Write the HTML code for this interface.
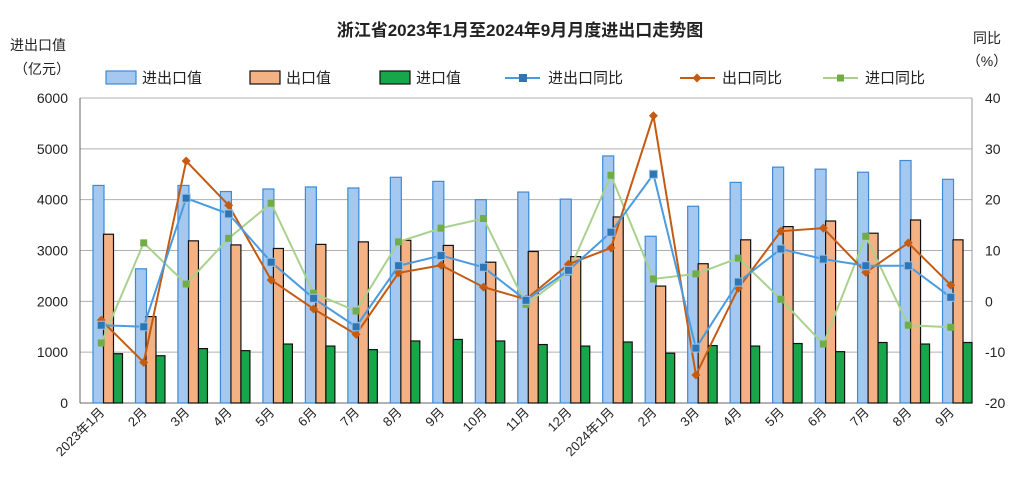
<!DOCTYPE html>
<html><head><meta charset="utf-8"><style>
body{margin:0;background:#fff;}
svg{display:block;font-family:"Liberation Sans","Noto Sans CJK SC",sans-serif;}
</style></head><body>
<svg id="c" width="1018" height="500" xmlns="http://www.w3.org/2000/svg"></svg>
<script>
const s=document.getElementById('c');
let h='';
const L=80,R=972,T=98,B=403,n=21,cw=(R-L)/n;
const yl=v=>B-(v/6000)*(B-T), yr=v=>B-((v+20)/60)*(B-T);
const BF='#a4c8ef',BS='#3d8ad8',OF='#f4b183',GF='#17a74a';
h+='<text x="520" y="36" text-anchor="middle" font-size="17" font-weight="bold" fill="#222">浙江省2023年1月至2024年9月月度进出口走势图</text>';
h+='<text x="38" y="50" text-anchor="middle" font-size="14" fill="#222">进出口值</text><text x="42" y="74" text-anchor="middle" font-size="14" fill="#222">（亿元）</text>';
h+='<text x="987" y="43" text-anchor="middle" font-size="14" fill="#222">同比</text><text x="987" y="66" text-anchor="middle" font-size="14" fill="#222">（%）</text>';
for(let i=0;i<=6;i++){const y=yl(i*1000);if(i>0)h+=`<line x1="${L}" x2="${R}" y1="${y}" y2="${y}" stroke="#b0b0b0"/>`;
h+=`<text x="68" y="${y+5}" text-anchor="end" font-size="14" fill="#222">${i*1000}</text>`;
h+=`<text x="985" y="${y+5}" font-size="14" fill="#222">${-20+i*10}</text>`;}
h+=`<line x1="${L}" x2="${L}" y1="${T}" y2="${B}" stroke="#666"/><line x1="${R}" x2="${R}" y1="${T}" y2="${B}" stroke="#999"/><line x1="${L}" x2="${R}" y1="${B}" y2="${B}" stroke="#666"/>`;
const b=[4280,2640,4280,4160,4210,4250,4230,4440,4360,4000,4150,4010,4860,3280,3870,4340,4640,4600,4540,4770,4400];
const o=[3320,1700,3190,3110,3040,3120,3170,3200,3100,2770,2980,2880,3660,2300,2740,3210,3470,3580,3340,3600,3210];
const g=[970,930,1070,1030,1160,1120,1050,1220,1250,1220,1150,1120,1200,980,1130,1120,1170,1010,1190,1160,1190];
const lb=[-4.7,-5,20.3,17.2,7.7,0.6,-5,7,9,6.7,0.2,6.1,13.6,25,-9.2,3.8,10.3,8.3,7,7,0.8];
const lo=[-3.7,-12,27.6,18.9,4.2,-1.5,-6.5,5.6,7.1,2.8,0.4,7.3,10.5,36.5,-14.5,2.6,13.8,14.4,5.7,11.5,3.2];
const lg=[-8.2,11.5,3.4,12.4,19.3,1.6,-1.9,11.7,14.4,16.3,-0.6,5.7,24.8,4.4,5.4,8.5,0.4,-8.4,12.8,-4.7,-5.1];
const labs=['2023年1月','2月','3月','4月','5月','6月','7月','8月','9月','10月','11月','12月','2024年1月','2月','3月','4月','5月','6月','7月','8月','9月'];
for(let i=0;i<n;i++){const x0=L+i*cw;
h+=`<rect x="${x0+13}" y="${yl(b[i])}" width="11" height="${B-yl(b[i])}" fill="${BF}" stroke="${BS}" stroke-width="1.2"/>`;
h+=`<rect x="${x0+23.5}" y="${yl(o[i])}" width="10" height="${B-yl(o[i])}" fill="${OF}" stroke="#111" stroke-width="1.2"/>`;
h+=`<rect x="${x0+33.5}" y="${yl(g[i])}" width="9" height="${B-yl(g[i])}" fill="${GF}" stroke="#111" stroke-width="1.2"/>`;
const cx=x0+cw/2;
h+=`<text transform="translate(${cx+4},${B+10}) rotate(-45)" text-anchor="end" font-size="13" fill="#222">${labs[i]}</text>`;}
function line(d,c,mk){let p=d.map((v,i)=>`${L+i*cw+cw/2},${yr(v)}`).join(' ');
h+=`<polyline points="${p}" fill="none" stroke="${c}" stroke-width="2"/>`;
d.forEach((v,i)=>{const x=L+i*cw+cw/2,y=yr(v);h+=mk(x,y);});}
line(lg,'#a9d18e',(x,y)=>`<rect x="${x-3.5}" y="${y-3.5}" width="7" height="7" fill="#70ad47"/>`);
line(lo,'#c55a11',(x,y)=>`<polygon points="${x},${y-4.5} ${x+4.5},${y} ${x},${y+4.5} ${x-4.5},${y}" fill="#c55a11"/>`);
line(lb,'#4a9be0',(x,y)=>`<rect x="${x-4}" y="${y-4}" width="8" height="8" fill="#2e75b6" stroke="#9dc3e6"/>`);
const ly=78;
h+=`<rect x="106" y="${ly-7}" width="30" height="13" fill="${BF}" stroke="${BS}" stroke-width="1.2"/><text x="142" y="${ly+5}" font-size="15" fill="#222">进出口值</text>`;
h+=`<rect x="250" y="${ly-7}" width="30" height="13" fill="${OF}" stroke="#111" stroke-width="1.2"/><text x="286" y="${ly+5}" font-size="15" fill="#222">出口值</text>`;
h+=`<rect x="380" y="${ly-7}" width="30" height="13" fill="${GF}" stroke="#111" stroke-width="1.2"/><text x="416" y="${ly+5}" font-size="15" fill="#222">进口值</text>`;
h+=`<line x1="505" x2="540" y1="${ly}" y2="${ly}" stroke="#4a9be0" stroke-width="2"/><rect x="519" y="${ly-4}" width="8" height="8" fill="#2e75b6"/><text x="548" y="${ly+5}" font-size="15" fill="#222">进出口同比</text>`;
h+=`<line x1="680" x2="715" y1="${ly}" y2="${ly}" stroke="#c55a11" stroke-width="2"/><polygon points="697,${ly-4.5} 701.5,${ly} 697,${ly+4.5} 692.5,${ly}" fill="#c55a11"/><text x="722" y="${ly+5}" font-size="15" fill="#222">出口同比</text>`;
h+=`<line x1="823" x2="858" y1="${ly}" y2="${ly}" stroke="#a9d18e" stroke-width="2"/><rect x="837" y="${ly-3.5}" width="7" height="7" fill="#70ad47"/><text x="865" y="${ly+5}" font-size="15" fill="#222">进口同比</text>`;
s.innerHTML=h;
</script>
</body></html>
